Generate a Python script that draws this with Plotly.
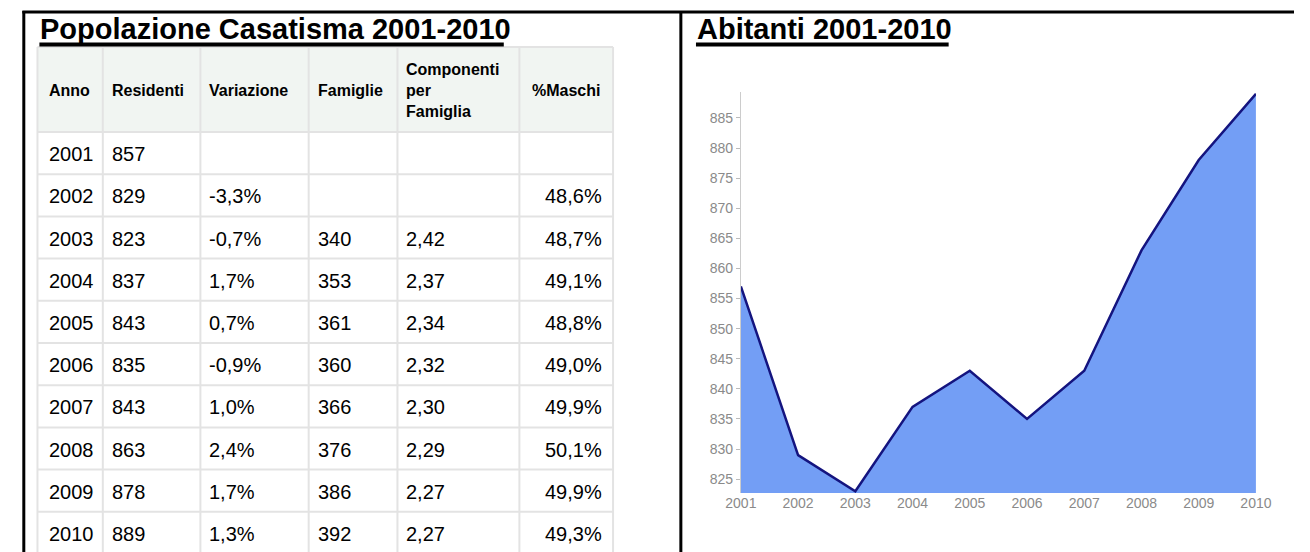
import plotly.graph_objects as go

W, H = 1310, 552

# ---- data ----
anni = [2001, 2002, 2003, 2004, 2005, 2006, 2007, 2008, 2009, 2010]
residenti = [857, 829, 823, 837, 843, 835, 843, 863, 878, 889]
variazione = ["", "-3,3%", "-0,7%", "1,7%", "0,7%", "-0,9%", "1,0%", "2,4%", "1,7%", "1,3%"]
famiglie = ["", "", "340", "353", "361", "360", "366", "376", "386", "392"]
componenti = ["", "", "2,42", "2,37", "2,34", "2,32", "2,30", "2,29", "2,27", "2,27"]
maschi = ["", "48,6%", "48,7%", "49,1%", "48,8%", "49,0%", "49,9%", "50,1%", "49,9%", "49,3%"]
intestazioni = ["Anno", "Residenti", "Variazione", "Famiglie",
                "Componenti<br>per<br>Famiglia", "%Maschi"]
y_ticks = [825, 830, 835, 840, 845, 850, 855, 860, 865, 870, 875, 880, 885]
titolo_tabella = "Popolazione Casatisma 2001-2010"
titolo_grafico = "Abitanti 2001-2010"

# ---- layout constants (pixels) ----
COL_X = [22, 89, 189, 300, 391, 516, 612]
HEAD_TOP, HEAD_BOT = 47, 132
ROW_H = 42.2
FONT = "Liberation Sans, Arial, sans-serif"
GRID = "#e3e3e3"


def px(x):
    return x / W


def py(y):
    return 1 - y / H


fig = go.Figure()

fig.add_trace(go.Scatter(
    x=anni, y=residenti, mode="lines", fill="tozeroy",
    fillcolor="#739ef5",
    line=dict(color="#14147f", width=2.5),
    hoverinfo="x+y", showlegend=False,
))

fig.update_layout(
    width=W, height=H,
    margin=dict(l=0, r=0, t=0, b=0),
    paper_bgcolor="white", plot_bgcolor="white",
    xaxis=dict(domain=[px(743), px(1271)], range=[2001, 2010],
               tickvals=anni, ticktext=[str(a) for a in anni],
               showgrid=False, zeroline=False, showline=False, ticks="",
               tickfont=dict(family=FONT, size=14, color="#8a8a8a")),
    yaxis=dict(domain=[py(493), py(92)], range=[822.7, 889.3],
               tickvals=y_ticks,
               showgrid=False, zeroline=False, showline=True, linecolor="#cccccc",
               linewidth=1, ticks="outside", ticklen=4, tickcolor="#bbbbbb",
               tickfont=dict(family=FONT, size=14, color="#8a8a8a")),
    font=dict(family=FONT),
)

shapes = []
# table header background
shapes.append(dict(type="rect", xref="paper", yref="paper", layer="below",
                   x0=px(COL_X[0]), x1=px(COL_X[-1]), y0=py(HEAD_BOT), y1=py(HEAD_TOP),
                   fillcolor="#f1f5f2", line=dict(width=0)))
# table grid: horizontal lines
row_lines = [HEAD_TOP, HEAD_BOT] + [HEAD_BOT + ROW_H * (i + 1) for i in range(len(anni))]
for yl in row_lines:
    if yl <= H:
        shapes.append(dict(type="line", xref="paper", yref="paper",
                           x0=px(COL_X[0]), x1=px(COL_X[-1]), y0=py(yl), y1=py(yl),
                           line=dict(color=GRID, width=2)))
# vertical lines
for xl in COL_X:
    shapes.append(dict(type="line", xref="paper", yref="paper",
                       x0=px(xl), x1=px(xl), y0=py(HEAD_TOP), y1=0,
                       line=dict(color=GRID, width=2)))
# outer frame
shapes += [
    dict(type="line", xref="paper", yref="paper", x0=px(6.5), x1=1, y0=py(12), y1=py(12),
         line=dict(color="black", width=3)),
    dict(type="line", xref="paper", yref="paper", x0=px(8), x1=px(8), y0=py(11), y1=0,
         line=dict(color="black", width=3)),
    dict(type="line", xref="paper", yref="paper", x0=px(681.5), x1=px(681.5), y0=py(12), y1=0,
         line=dict(color="black", width=3)),
    # title underlines
    dict(type="line", xref="paper", yref="paper", x0=px(24), x1=px(500), y0=py(44.5), y1=py(44.5),
         line=dict(color="black", width=4)),
    dict(type="line", xref="paper", yref="paper", x0=px(697), x1=px(956), y0=py(44.5), y1=py(44.5),
         line=dict(color="black", width=4)),
]
fig.update_layout(shapes=shapes)

annotations = []
# titles
annotations.append(dict(text=f"<b>{titolo_tabella}</b>", x=px(23), y=py(29),
                        xanchor="left", yanchor="middle",
                        font=dict(family=FONT, size=29, color="black")))
annotations.append(dict(text=f"<b>{titolo_grafico}</b>", x=px(696), y=py(29),
                        xanchor="left", yanchor="middle",
                        font=dict(family=FONT, size=29, color="black")))
# table header
head_mid = (HEAD_TOP + HEAD_BOT) / 2
for j, h in enumerate(intestazioni):
    if j == len(intestazioni) - 1:
        xa, xan = (COL_X[j] + COL_X[j + 1]) / 2, "center"
    else:
        xa, xan = COL_X[j] + (10 if j == 0 else 7), "left"
    annotations.append(dict(text=f"<b>{h}</b>", x=px(xa), y=py(head_mid + 1),
                            xanchor=xan, yanchor="middle", align="left",
                            font=dict(family=FONT, size=16, color="black")))
# table body
colonne = [[str(a) for a in anni], [str(r) for r in residenti], variazione,
           famiglie, componenti, maschi]
for j, col in enumerate(colonne):
    for i, v in enumerate(col):
        if not v:
            continue
        yc = HEAD_BOT + ROW_H * (i + 0.5)
        if j == len(colonne) - 1:
            xa, xan = COL_X[j + 1] - 9, "right"
        else:
            xa, xan = COL_X[j] + (10 if j == 0 else 7), "left"
        annotations.append(dict(text=v, x=px(xa), y=py(yc + 1),
                                xanchor=xan, yanchor="middle",
                                font=dict(family=FONT, size=20, color="black")))
for a in annotations:
    a.update(xref="paper", yref="paper", showarrow=False)
fig.update_layout(annotations=annotations)

fig.write_html("out.html")
